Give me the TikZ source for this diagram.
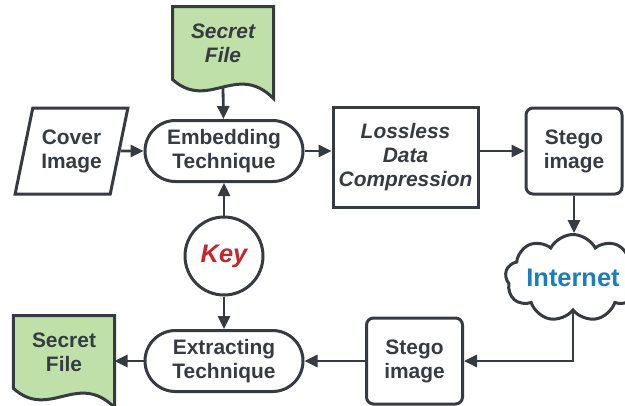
\documentclass[tikz,border=0pt]{standalone}
\usepackage{fontspec}
\setmainfont{Liberation Sans}
\usetikzlibrary{shapes.geometric,shapes.misc,shapes.symbols,arrows.meta}
\definecolor{ink}{HTML}{363B42}
\definecolor{docgreen}{HTML}{BFE0A8}
\definecolor{keyred}{HTML}{C1272D}
\definecolor{netblue}{HTML}{1B7DB9}
\pgfdeclarelayer{bg}
\pgfsetlayers{bg,main}

\tikzset{
  base/.style={draw=ink, line width=3bp, text=ink, align=center, inner sep=2bp,
    font=\fontsize{21}{24}\selectfont\bfseries},
  slanted/.style={font=\fontsize{21}{24}\selectfont\bfseries\itshape},
  term/.style={base, rounded rectangle, minimum width=162bp, minimum height=61bp},
  box/.style={base, rectangle, minimum width=96bp, minimum height=86bp},
  doc/.style={base, draw=none, minimum width=98bp, minimum height=70bp},
  arr/.style={draw=ink, line width=2.8bp, -{Triangle[length=13bp,width=12bp]}},
}
% document shape with a wavy bottom, drawn behind the node text
\newcommand\docpath[1]{\filldraw[fill=docgreen, draw=ink, line width=3bp]
  (#1.north west) -- (#1.north east) -- ([yshift=-19bp]#1.south east)
  .. controls +(-37bp,37bp) and +(36bp,-32bp) .. (#1.south west) -- cycle;}

\begin{document}
\begin{tikzpicture}[x=1bp, y=-1bp]
  \useasboundingbox (0,0) rectangle (625,405);

  \node[doc, slanted] (secretT) at (223,43) {Secret\\File};
  \node[base, trapezium, trapezium left angle=72.6, trapezium right angle=107.4,
    trapezium stretches=true, minimum width=113bp, minimum height=86bp] (cover) at (71.5,151) {Cover\\Image};
  \node[term] (embed) at (224,151) {Embedding\\Technique};
  \node[box, slanted, minimum width=145bp, minimum height=100bp] (lossless) at (405.5,157) {Lossless\\Data\\Compression};
  \node[box, rounded corners=7bp] (stegoT) at (574,151) {Stego\\image};
  \node[base, cloud, cloud puffs=9, cloud puff arc=125, cloud ignores aspect,
    minimum width=132bp, minimum height=87bp, text=netblue,
    font=\fontsize{25.5}{28}\selectfont\bfseries] (internet) at (573,278) {Internet};
  \node[box, rounded corners=7bp] (stegoB) at (414.5,361) {Stego\\image};
  \node[term] (extract) at (224,361) {Extracting\\Technique};
  \node[base, circle, minimum size=78bp, text=keyred,
    font=\fontsize{25.5}{28}\selectfont\bfseries\itshape] (key) at (224,256) {Key};
  \node[doc] (secretB) at (64,352) {Secret\\File};

  \begin{pgfonlayer}{bg}
    \docpath{secretT}
    \docpath{secretB}
  \end{pgfonlayer}

  \draw[arr] ([yshift=-8bp]secretT.south) -- (embed);
  \draw[arr] (cover.east) -- (embed.west);
  \draw[arr] (embed.east) -- (embed.east -| lossless.west);
  \draw[arr] (embed.east -| lossless.east) -- (stegoT.west);
  \draw[arr] (stegoT.south) -- (stegoT.south |- internet.north);
  \draw[arr] (internet.south) |- (stegoB.east);
  \draw[arr] (stegoB.west) -- (extract.east);
  \draw[arr] (extract.west) -- (extract.west -| secretB.east);
  \draw[arr] (key.north) -- (embed.south);
  \draw[arr] (key.south) -- (extract.north);
\end{tikzpicture}
\end{document}
